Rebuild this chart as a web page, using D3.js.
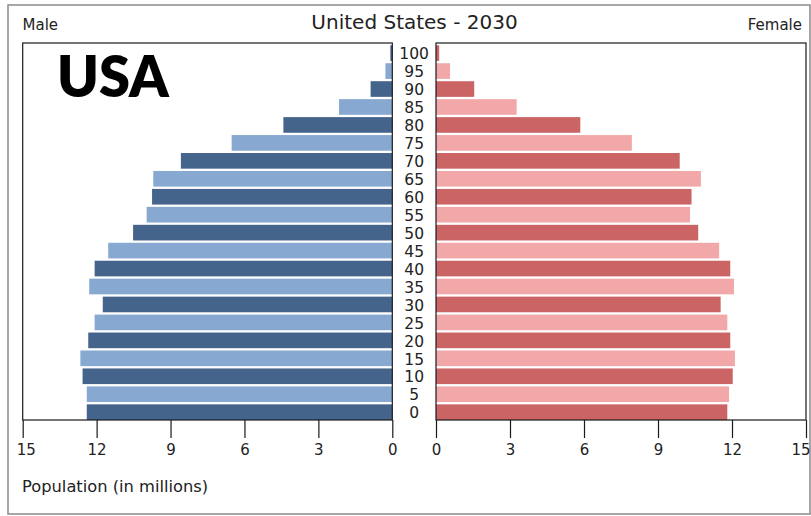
<!DOCTYPE html>
<html>
<head>
<meta charset="utf-8">
<script src="https://cdn.jsdelivr.net/npm/d3@7/dist/d3.min.js"></script>
<style>
  html, body { margin: 0; padding: 0; background: #fff; }
  svg { display: block; }
  text { font-family: "DejaVu Sans", sans-serif; fill: #222; }
</style>
</head>
<body>
<svg id="chart" width="811" height="516"></svg>
<script>
// Age groups (start of each 5-year band), bottom to top
const ages = [0, 5, 10, 15, 20, 25, 30, 35, 40, 45, 50, 55, 60, 65, 70, 75, 80, 85, 90, 95, 100];
// Projected population in millions
const male   = [12.40, 12.40, 12.57, 12.66, 12.34, 12.08, 11.75, 12.30, 12.08, 11.53, 10.52, 9.97, 9.75, 9.70, 8.58, 6.52, 4.42, 2.16, 0.88, 0.28, 0.08];
const female = [11.81, 11.88, 12.03, 12.12, 11.93, 11.81, 11.54, 12.08, 11.93, 11.48, 10.63, 10.30, 10.36, 10.74, 9.88, 7.94, 5.85, 3.27, 1.55, 0.57, 0.13];
const tickValues = [0, 3, 6, 9, 12, 15];

const title = "United States - 2030";
const maleLabel = "Male";
const femaleLabel = "Female";
const axisLabel = "Population (in millions)";
const countryLabel = "USA";

const colors = {
  maleDark: "#45648c", maleLight: "#87a8d0",
  femaleDark: "#cb6565", femaleLight: "#f2a8a8"
};

const svg = d3.select("#chart");

// Panel geometry
const plotTop = 43, plotBottom = 420;
const leftPanel = { x0: 22.7, x1: 392.3 };
const rightPanel = { x0: 436, x1: 806 };
const midX = (leftPanel.x1 + rightPanel.x0) / 2;

const xL = d3.scaleLinear().domain([0, 15]).range([leftPanel.x1, leftPanel.x0]);
const xR = d3.scaleLinear().domain([0, 15]).range([rightPanel.x0, rightPanel.x1]);
const y = d3.scaleBand().domain(ages).range([plotBottom, plotTop]);
const gap = 2.3;

// outer frame
svg.append("rect")
  .attr("x", 8).attr("y", 5).attr("width", 802).attr("height", 509)
  .attr("fill", "none").attr("stroke", "#8a8a8a").attr("stroke-width", 1.5);

// bars
const rowColor = (i, dark, light) => (i % 2 === 0 ? dark : light);

svg.append("g").selectAll("rect")
  .data(ages)
  .join("rect")
  .attr("x", (d, i) => xL(male[i]))
  .attr("y", d => y(d) + gap)
  .attr("width", (d, i) => xL(0) - xL(male[i]))
  .attr("height", y.bandwidth() - gap)
  .attr("fill", (d, i) => rowColor(i, colors.maleDark, colors.maleLight));

svg.append("g").selectAll("rect")
  .data(ages)
  .join("rect")
  .attr("x", xR(0))
  .attr("y", d => y(d) + gap)
  .attr("width", (d, i) => xR(female[i]) - xR(0))
  .attr("height", y.bandwidth() - gap)
  .attr("fill", (d, i) => rowColor(i, colors.femaleDark, colors.femaleLight));

// panel frames
[leftPanel, rightPanel].forEach(p => {
  svg.append("rect")
    .attr("x", p.x0).attr("y", plotTop)
    .attr("width", p.x1 - p.x0).attr("height", plotBottom - plotTop)
    .attr("fill", "none").attr("stroke", "#1a1a1a").attr("stroke-width", 1.2);
});

// axes
function styleAxis(g) {
  g.select(".domain").remove();
  g.selectAll(".tick line").attr("stroke", "#1a1a1a").attr("stroke-width", 1.2);
  g.selectAll(".tick text")
    .style("font-size", "15px")
    .style("fill", "#222");
}

svg.append("g")
  .attr("transform", `translate(0,${plotBottom})`)
  .call(d3.axisBottom(xL).tickValues(tickValues).tickSize(18).tickPadding(6))
  .call(styleAxis)
  .call(g => g.selectAll(".tick text").filter(d => d === 15).attr("dx", 3));

svg.append("g")
  .attr("transform", `translate(0,${plotBottom})`)
  .call(d3.axisBottom(xR).tickValues(tickValues).tickSize(18).tickPadding(6))
  .call(styleAxis)
  .call(g => g.selectAll(".tick text").filter(d => d === 15)
    .attr("text-anchor", "end").attr("dx", 4));

// age labels between the panels
svg.append("g").selectAll("text")
  .data(ages)
  .join("text")
  .attr("x", midX)
  .attr("y", d => y(d) + gap + (y.bandwidth() - gap) / 2)
  .attr("dy", "0.4em")
  .attr("text-anchor", "middle")
  .style("font-size", "15.5px")
  .text(d => d);

// titles
svg.append("text")
  .attr("x", 414.5).attr("y", 29)
  .attr("text-anchor", "middle")
  .style("font-size", "20px")
  .text(title);

svg.append("text")
  .attr("x", 22.5).attr("y", 29.5)
  .style("font-size", "15px")
  .text(maleLabel);

svg.append("text")
  .attr("x", 802).attr("y", 29.5)
  .attr("text-anchor", "end")
  .style("font-size", "15px")
  .text(femaleLabel);

svg.append("text")
  .attr("x", 22).attr("y", 492)
  .style("font-size", "16.3px")
  .text(axisLabel);

svg.append("text")
  .attr("x", 57).attr("y", 96.5)
  .style("font-family", "Lato, 'Open Sans', sans-serif")
  .style("font-weight", 800)
  .style("font-size", "56px")
  .style("fill", "#000")
  .text(countryLabel);
</script>
</body>
</html>
